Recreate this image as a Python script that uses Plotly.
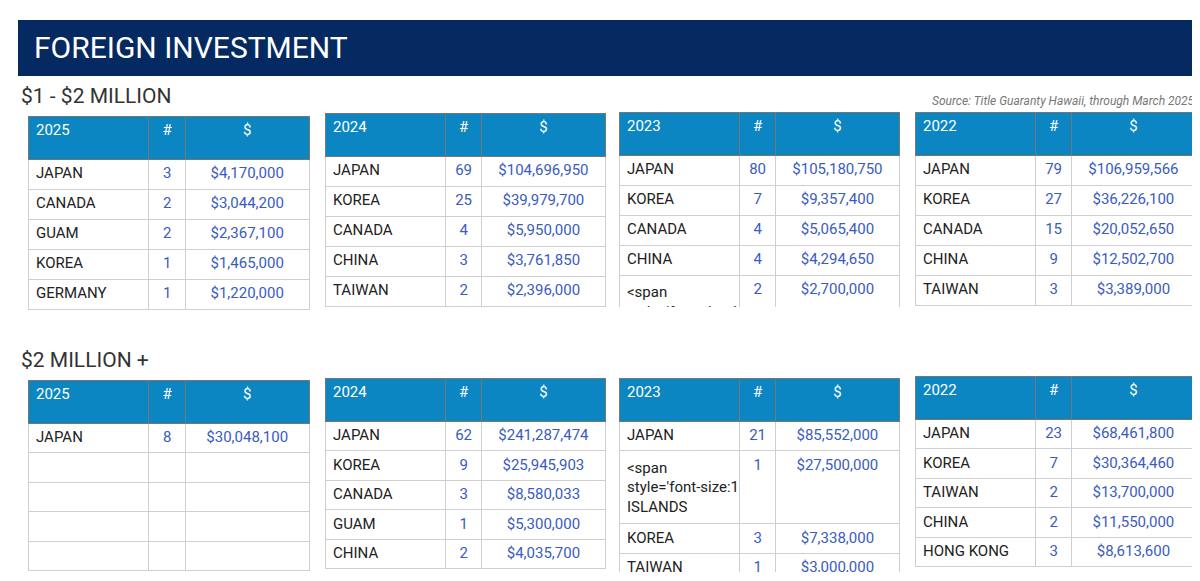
import plotly.graph_objects as go

W, H = 1200, 581

# --- data ---
years = ["2025", "2024", "2023", "2022"]

low_countries = [
    ["JAPAN", "CANADA", "GUAM", "KOREA", "GERMANY"],
    ["JAPAN", "KOREA", "CANADA", "CHINA", "TAIWAN"],
    ["JAPAN", "KOREA", "CANADA", "CHINA", "AMERICAN SAMOA"],
    ["JAPAN", "KOREA", "CANADA", "CHINA", "TAIWAN"],
]
low_counts = [
    ["3", "2", "2", "1", "1"],
    ["69", "25", "4", "3", "2"],
    ["80", "7", "4", "4", "2"],
    ["79", "27", "15", "9", "3"],
]
low_amounts = [
    ["$4,170,000", "$3,044,200", "$2,367,100", "$1,465,000", "$1,220,000"],
    ["$104,696,950", "$39,979,700", "$5,950,000", "$3,761,850", "$2,396,000"],
    ["$105,180,750", "$9,357,400", "$5,065,400", "$4,294,650", "$2,700,000"],
    ["$106,959,566", "$36,226,100", "$20,052,650", "$12,502,700", "$3,389,000"],
]

high_countries = [
    ["JAPAN", "", "", "", ""],
    ["JAPAN", "KOREA", "CANADA", "GUAM", "CHINA"],
    ["JAPAN", "CAYMAN ISLANDS", "KOREA", "TAIWAN", "PUERTO RICO"],
    ["JAPAN", "KOREA", "TAIWAN", "CHINA", "HONG KONG"],
]
high_counts = [
    ["8", "", "", "", ""],
    ["62", "9", "3", "1", "2"],
    ["21", "1", "3", "1", "1"],
    ["23", "7", "2", "2", "3"],
]
high_amounts = [
    ["$30,048,100", "", "", "", ""],
    ["$241,287,474", "$25,945,903", "$8,580,033", "$5,300,000", "$4,035,700"],
    ["$85,552,000", "$27,500,000", "$7,338,000", "$3,000,000", "$2,800,000"],
    ["$68,461,800", "$30,364,460", "$13,700,000", "$11,550,000", "$8,613,600"],
]

# --- layout positions (pixels) ---
xs = [(20, 301), (317, 597), (611, 892), (907, 1188)]
top_y = [(108, 305), (105, 301), (104, 299), (104, 299)]
bot_y = [(372, 564), (370, 564), (370, 564), (368, 564)]

HEADER_FILL = "#0b86c3"
VAL_COLOR = "#3a5cc0"
TXT_COLOR = "#222222"
FONT = "Roboto"

fig = go.Figure()


def add_table(x, y, year, countries, counts, amounts, hh, rh):
    # long country names are set smaller, as in the source
    names = [f"<span style='font-size:10.5px'>{c}</span>" if len(c) > 10 else c
             for c in countries]
    fig.add_trace(go.Table(
        domain=dict(x=[x[0] / W, x[1] / W], y=[1 - y[1] / H, 1 - y[0] / H]),
        columnwidth=[0.43, 0.13, 0.44],
        header=dict(
            values=[year, "#", "$"],
            fill_color=HEADER_FILL,
            line_color="#777777",
            font=dict(family=FONT, size=15, color="white"),
            align=["left", "center", "center"],
            height=hh,
        ),
        cells=dict(
            values=[names, counts, amounts],
            fill_color="white",
            line_color="#cfcfcf",
            font=dict(family=FONT, size=15,
                      color=[TXT_COLOR, VAL_COLOR, VAL_COLOR]),
            align=["left", "center", "center"],
            height=rh,
        ),
    ))


for i in range(4):
    add_table(xs[i], top_y[i], years[i], low_countries[i], low_counts[i], low_amounts[i], 43, 30)
    add_table(xs[i], bot_y[i], years[i], high_countries[i], high_counts[i], high_amounts[i], 43, 29.5)

# title banner
fig.add_shape(type="rect", xref="paper", yref="paper",
              x0=10 / W, x1=1188 / W, y0=1 - 68 / H, y1=1 - 12 / H,
              fillcolor="#052a62", line_width=0, layer="below")
fig.add_annotation(text="FOREIGN INVESTMENT", xref="paper", yref="paper",
                   x=24 / W, y=1 - 40 / H, xanchor="left", yanchor="middle",
                   showarrow=False, font=dict(family=FONT, size=30, color="white"))
fig.add_annotation(text="$1 - $2 MILLION", xref="paper", yref="paper",
                   x=11 / W, y=1 - 88 / H, xanchor="left", yanchor="middle",
                   showarrow=False, font=dict(family=FONT, size=21, color="#333333"))
fig.add_annotation(text="$2 MILLION +", xref="paper", yref="paper",
                   x=11 / W, y=1 - 352 / H, xanchor="left", yanchor="middle",
                   showarrow=False, font=dict(family=FONT, size=21, color="#333333"))
fig.add_annotation(text="<i>Source: Title Guaranty Hawaii, through March 2025</i>",
                   xref="paper", yref="paper",
                   x=1189 / W, y=1 - 93 / H, xanchor="right", yanchor="middle",
                   showarrow=False, font=dict(family=FONT, size=12, color="#777777"))

fig.update_layout(width=W, height=H, margin=dict(l=0, r=0, t=0, b=0),
                  paper_bgcolor="white", plot_bgcolor="white", showlegend=False)

fig.write_html("out.html")
